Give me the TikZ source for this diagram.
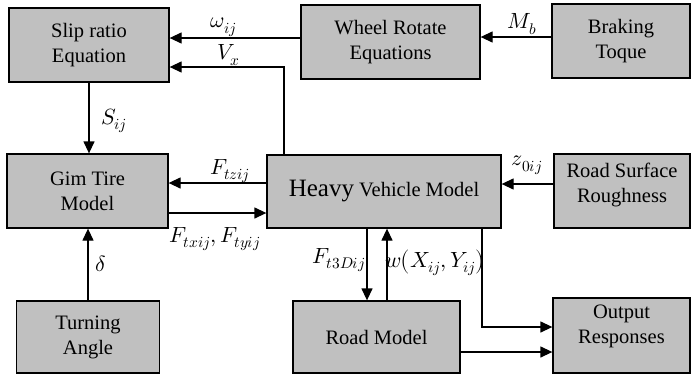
\documentclass[tikz,border=0pt]{standalone}
\usepackage{unicode-math}
\setmathfont{Latin Modern Math}
\setmainfont{Liberation Serif}
\newfontfamily\tnr{Liberation Serif}
\usetikzlibrary{arrows.meta}
\definecolor{boxgray}{RGB}{192,192,192}
\begin{document}
\begin{tikzpicture}[x=1pt,y=-1pt,
  box/.style={draw, fill=boxgray, line width=1.3pt, inner sep=0pt, anchor=center},
  txt/.style={align=center, font=\tnr\fontsize{20.5}{25}\selectfont, inner sep=0pt},
  lab/.style={font=\fontsize{22}{26}\selectfont, inner sep=0pt},
  arr/.style={line width=1.3pt, -{Triangle[length=12pt,width=11pt]}}]
\useasboundingbox (0,0) rectangle (691,375);
% boxes
\node[box, minimum width=160pt, minimum height=74pt] (slip)  at (89,45) {};
\node[box, minimum width=179pt, minimum height=74pt] (wheel) at (390.5,42) {};
\node[box, minimum width=138pt, minimum height=74pt] (brake) at (621,41) {};
\node[box, minimum width=161pt, minimum height=74pt] (gim)   at (87.5,191) {};
\node[box, minimum width=234pt, minimum height=73pt] (heavy) at (384,191.5) {};
\node[box, minimum width=136pt, minimum height=74pt] (rough) at (622,191) {};
\node[box, minimum width=143pt, minimum height=72pt] (turn)  at (88,337) {};
\node[box, minimum width=167pt, minimum height=72pt] (road)  at (376.5,337) {};
\node[box, minimum width=137pt, minimum height=75pt] (out)   at (621.5,335.5) {};
% texts
\node[txt] (slipt)  at (slip.center)  {Slip ratio\\Equation};
\node[txt] (wheelt) at (wheel.center) {Wheel Rotate\\Equations};
\node[txt] (braket) at (brake.center) {Braking\\Toque};
\node[txt] (gimt)   at (gim.center)   {Gim Tire\\Model};
\node[txt] (heavyt) at (heavy.center) {{\fontsize{25}{30}\selectfont Heavy} Vehicle Model};
\node[txt, yshift=6pt] (rought) at (rough.center) {Road Surface\\Roughness};
\node[txt] (turnt)  at (turn.center)  {Turning\\Angle};
\node[txt] (roadt)  at (road.center)  {Road Model};
\node[txt, yshift=9pt] (outt) at (out.center) {Output\\Responses};
% connectors
\coordinate (w1) at ([yshift=4pt]wheel.west);
\draw[arr] (w1) -- (w1 -| slip.east);
\coordinate (v1) at ([xshift=-100pt]heavy.north);
\coordinate (v2) at ([yshift=-22pt]slip.east);
\draw[arr] (v1) |- (v2);
\coordinate (m1) at ([yshift=4pt]brake.west);
\draw[arr] (m1) -- (m1 -| wheel.east);
\draw[arr] (slip.south) -- (slip.south |- gim.north);
\draw[arr] (turn.north) -- (turn.north |- gim.south);
\coordinate (f1) at ([yshift=8.5pt]heavy.west);
\draw[arr] (f1) -- (f1 -| gim.east);
\coordinate (f2) at ([yshift=-22pt]gim.east);
\draw[arr] (f2) -- (f2 -| heavy.west);
\coordinate (z1) at ([yshift=7pt]rough.west);
\draw[arr] (z1) -- (z1 -| heavy.east);
\coordinate (t1) at ([xshift=-17pt]heavy.south);
\draw[arr] (t1) -- (t1 |- road.north);
\coordinate (t2) at ([xshift=10.5pt]road.north);
\draw[arr] (t2) -- (t2 |- heavy.south);
\coordinate (o1) at ([xshift=98pt]heavy.south);
\coordinate (o2) at ([yshift=8.5pt]out.west);
\draw[arr] (o1) |- (o2);
\coordinate (o3) at ([yshift=-16.5pt]out.west);
\draw[arr] (o3 -| road.east) -- (o3);
% labels
\node[lab] (lw)  at (224,27)  {$\omega_{ij}$};
\node[lab] (lv)  at (229,55)  {$V_x$};
\node[lab] (lm)  at (522,24)  {$M_b$};
\node[lab] (ls)  at (114,121) {$S_{ij}$};
\node[lab] (lfz) at (230,171) {$F_{tzij}$};
\node[lab] (lfxy) at (215,239) {$F_{txij}, F_{tyij}$};
\node[lab] (ld)  at (101,264) {$\delta$};
\node[lab] (lz)  at (527,165) {$z_{0ij}$};
\node[lab] (lf3) at (339,260) {$F_{t3Dij}$};
\node[lab] (lwx) at (435,262) {$w\bigl(X_{ij},Y_{ij}\bigr)$};
\end{tikzpicture}
\end{document}
